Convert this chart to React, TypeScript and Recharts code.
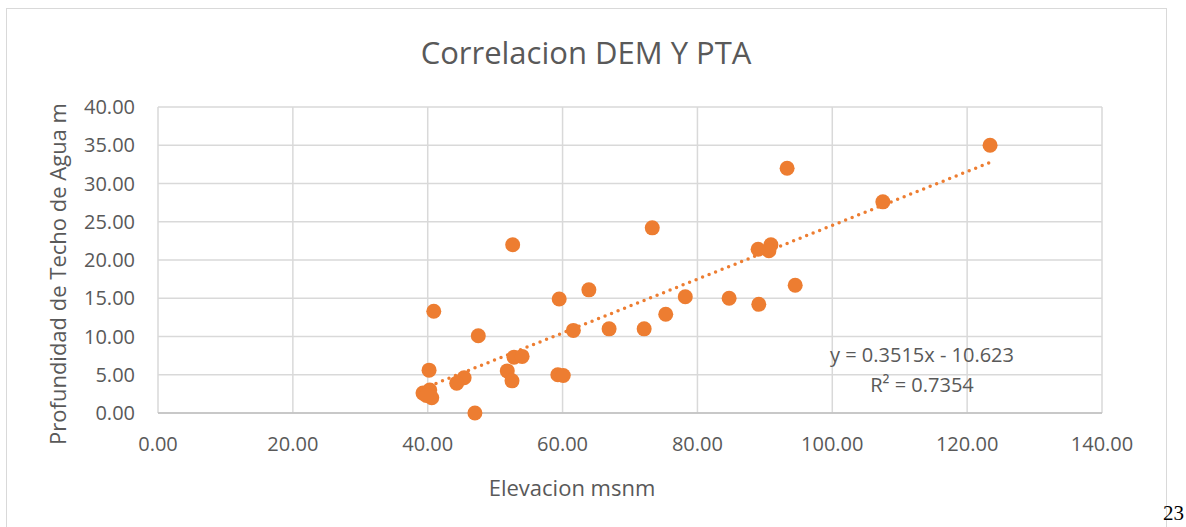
import { CartesianGrid, Scatter, ScatterChart, XAxis, YAxis } from "recharts";

// Elevacion msnm (x) vs Profundidad de Techo de Agua m (y)
const elevacion = [
  123.4, 107.5, 93.3, 94.5, 90.9, 90.6, 89.0, 84.7, 89.1, 78.2, 75.3, 72.1, 66.9, 73.3, 63.9, 59.5, 61.6,
  52.6, 47.5, 52.8, 54.0, 51.8, 52.5, 59.3, 60.1, 45.4, 44.3, 40.2, 40.9, 47.0, 39.3, 40.3, 40.6, 39.8,
];
const profundidad = [
  35.0, 27.6, 32.0, 16.7, 22.0, 21.2, 21.4, 15.0, 14.2, 15.2, 12.9, 11.0, 11.0, 24.2, 16.1, 14.9, 10.8,
  22.0, 10.1, 7.3, 7.4, 5.5, 4.2, 5.0, 4.9, 4.6, 3.9, 5.6, 13.3, 0.0, 2.6, 3.0, 2.0, 2.3,
];

const slope = 0.3515;
const intercept = -10.623;
const xTicks = [0, 20, 40, 60, 80, 100, 120, 140];
const yTicks = [0, 5, 10, 15, 20, 25, 30, 35, 40];

const TEXT = "#595959";
const GRID = "#D9D9D9";
const ORANGE = "#ED7D31";
const FONT = "'Open Sans', sans-serif";

const points = elevacion.map((x, i) => ({ x, y: profundidad[i] }));
const xMin = Math.min(...elevacion);
const xMax = Math.max(...elevacion);
const trend = [xMin, xMax].map((x) => ({ x, y: slope * x + intercept }));

const fmt = (v: number) => v.toFixed(2);

function Dot(props: { cx?: number; cy?: number }) {
  if (props.cx == null || props.cy == null) return null;
  return <circle cx={props.cx} cy={props.cy} r={7.5} fill={ORANGE} />;
}

export default function App() {
  const tick = { fill: TEXT, fontSize: 20, fontFamily: FONT };
  return (
    <div style={{ position: "absolute", left: 0, top: 0, width: 1186, height: 527, background: "#fff", overflow: "hidden" }}>
      <div
        style={{
          position: "absolute",
          left: 6,
          top: 8,
          width: 1159,
          height: 540,
          borderTop: `1px solid ${GRID}`,
          borderLeft: `1px solid ${GRID}`,
          borderRight: `1px solid ${GRID}`,
        }}
      />
      <ScatterChart width={1186} height={527} margin={{ top: 107, right: 84, bottom: 0, left: 0 }}>
        <CartesianGrid stroke={GRID} strokeWidth={1.5} horizontalValues={yTicks} verticalValues={xTicks} />
        <XAxis
          type="number"
          dataKey="x"
          domain={[0, 140]}
          ticks={xTicks}
          tickFormatter={fmt}
          height={114}
          tick={tick}
          tickLine={false}
          tickSize={0}
          tickMargin={24}
          axisLine={{ stroke: "#BFBFBF", strokeWidth: 1.5 }}
        />
        <YAxis
          type="number"
          dataKey="y"
          domain={[0, 40]}
          ticks={yTicks}
          tickFormatter={fmt}
          width={158}
          tick={tick}
          tickLine={false}
          tickSize={0}
          tickMargin={23}
          axisLine={false}
        />
        <Scatter
          data={trend}
          line={{ stroke: ORANGE, strokeWidth: 3.5, strokeDasharray: "0 7", strokeLinecap: "round" }}
          shape={() => null}
          isAnimationActive={false}
        />
        <Scatter data={points} shape={<Dot />} isAnimationActive={false} />
      </ScatterChart>
      <div style={{ position: "absolute", left: 286, width: 600, top: 32, textAlign: "center", fontFamily: FONT, fontSize: 31, color: TEXT, lineHeight: "40px" }}>
        Correlacion DEM Y PTA
      </div>
      <div style={{ position: "absolute", left: 372, width: 400, top: 472, textAlign: "center", fontFamily: FONT, fontSize: 22, color: TEXT, lineHeight: "30px" }}>
        Elevacion msnm
      </div>
      <div
        style={{
          position: "absolute",
          left: 57 - 200,
          top: 274 - 15,
          width: 400,
          textAlign: "center",
          fontFamily: FONT,
          fontSize: 22,
          color: TEXT,
          lineHeight: "30px",
          transform: "rotate(-90deg)",
        }}
      >
        Profundidad de Techo de Agua m
      </div>
      <div style={{ position: "absolute", left: 772, width: 300, top: 340, textAlign: "center", fontFamily: FONT, fontSize: 20, color: TEXT, lineHeight: "30px" }}>
        <div>y = 0.3515x - 10.623</div>
        <div>R² = 0.7354</div>
      </div>
      <div style={{ position: "absolute", left: 1163, top: 500, fontFamily: "'Liberation Serif', serif", fontSize: 21, color: "#000", lineHeight: "26px", whiteSpace: "nowrap" }}>
        23
      </div>
    </div>
  );
}
